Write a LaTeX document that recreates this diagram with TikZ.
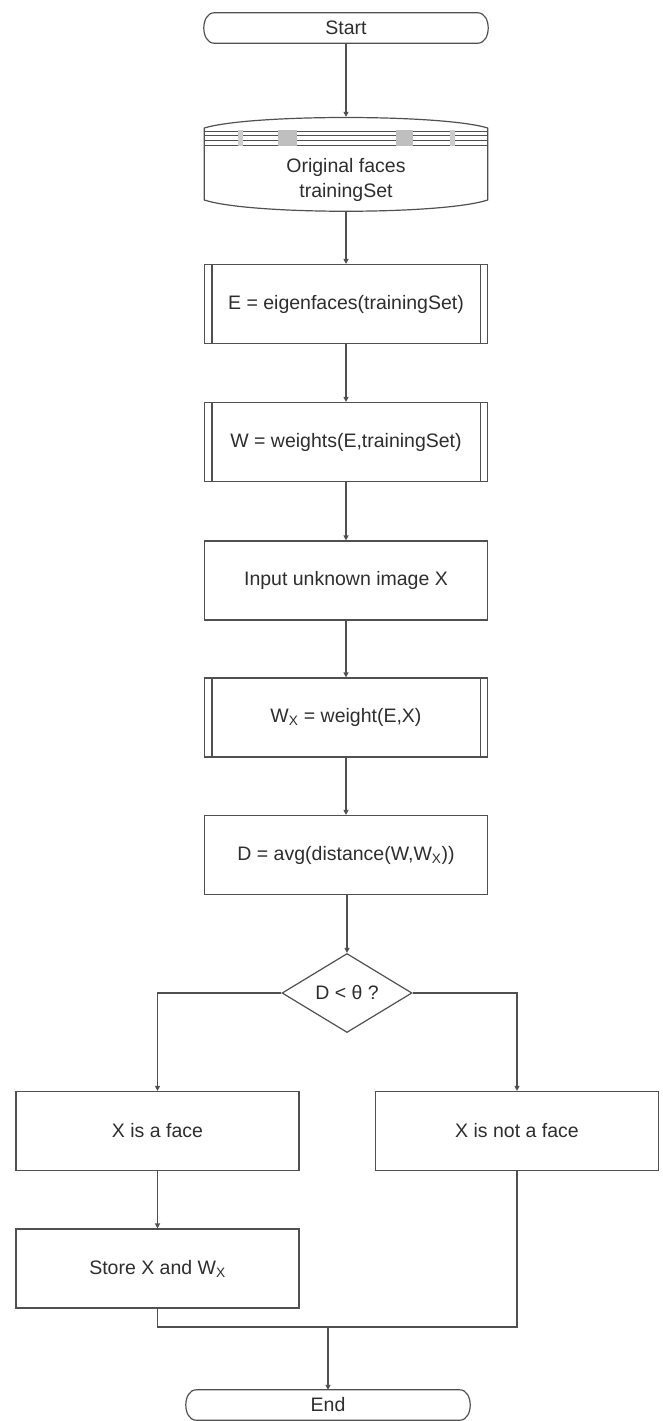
\documentclass[tikz,border=0pt]{standalone}
\usepackage{fontspec}
\setmainfont{Liberation Sans}
\usetikzlibrary{arrows.meta,shapes.geometric}
\definecolor{lncol}{HTML}{505050}
\definecolor{txcol}{HTML}{2E2E2E}
\newcommand\termoutline[1]{%
  \draw[edge, line join=round] ([xshift=10pt]#1.north west) -- ([xshift=-10pt]#1.north east)
    .. controls ([xshift=4pt]#1.north east) and ([xshift=4pt]#1.south east) .. ([xshift=-10pt]#1.south east)
    -- ([xshift=10pt]#1.south west)
    .. controls ([xshift=-4pt]#1.south west) and ([xshift=-4pt]#1.north west) .. ([xshift=10pt]#1.north west);}
\newcommand\sidebars[1]{%
  \draw[edge] ([xshift=8pt]#1.north west) -- ([xshift=8pt]#1.south west);
  \draw[edge] ([xshift=-8pt]#1.north east) -- ([xshift=-8pt]#1.south east);}
\begin{document}
\begin{tikzpicture}[x=1pt,y=-1pt,
  txt/.style={text=txcol, font=\fontsize{19.5}{25}\selectfont},
  box/.style={txt, draw=lncol, line width=1.2pt, minimum width=283pt, minimum height=79pt, inner sep=0pt},
  term/.style={txt, minimum width=283pt, minimum height=30pt, inner sep=0pt},
  edge/.style={draw=lncol, line width=1.2pt},
  arr/.style={edge, -{Triangle[length=5pt,width=5pt]}},
  band/.style={draw=lncol, line width=0.7pt},
  decision/.style={txt, diamond, draw=lncol, line width=1.2pt, minimum width=130pt, minimum height=79pt, inner sep=0pt}
]
\fill[white] (0,0) rectangle (662,1421);
\useasboundingbox (0,0) rectangle (662,1421);

% Start
\node[term] (start) at (346,28) {Start};
\termoutline{start}

% Database
\node[minimum width=283pt, minimum height=95pt, inner sep=0pt] (db) at (346,164.5) {};
\draw[edge, line join=round] (db.north west |- 0,128) .. controls (250,114) and (442,114) .. (db.north east |- 0,128)
  -- (db.south east |- 0,200) .. controls (442,215) and (250,215) .. (db.south west |- 0,200) -- cycle;
\foreach \yy in {131,135.5,140,145}{\draw[band] (205,\yy) -- (488,\yy);}
\fill[black!25] (278,130) rectangle (297,146);
\fill[black!25] (396,130) rectangle (413,146);
\fill[black!20] (238,130) rectangle (243,146);
\fill[black!20] (450,130) rectangle (455,146);
\node[txt, align=center, inner sep=0pt] (dbtext) at (346,180) {Original faces\\trainingSet};

% Process boxes
\node[box] (eig) at (346,304) {E = eigenfaces(trainingSet)};
\sidebars{eig}
\node[box] (wts) at (346,442) {W = weights(E,trainingSet)};
\sidebars{wts}
\node[box] (inp) at (346,580.5) {Input unknown image X};
\node[box] (wx) at (346,717.5) {W\textsubscript{X} = weight(E,X)};
\sidebars{wx}
\node[box] (dist) at (346,855) {D = avg(distance(W,W\textsubscript{X}))};

% Decision
\node[decision] (dec) at (347,993) {D < θ ?};

% Outcome boxes
\node[box] (face) at (157.5,1131) {X is a face};
\node[box] (notface) at (517,1131) {X is not a face};
\node[box] (store) at (157.5,1268.5) {Store X and W\textsubscript{X}};

% End
\node[term] (end) at (328,1405) {End};
\termoutline{end}

% Connectors
\draw[arr] (start.south) -- (db.north);
\draw[arr] (db.south) -- (eig.north);
\draw[arr] (eig.south) -- (wts.north);
\draw[arr] (wts.south) -- (inp.north);
\draw[arr] (inp.south) -- (wx.north);
\draw[arr] (wx.south) -- (dist.north);
\draw[arr] (dist.south -| dec.north) -- (dec.north);
\draw[arr] (dec.west) -| (face.north);
\draw[arr] (dec.east) -| (notface.north);
\draw[arr] (face.south) -- (store.north);
\coordinate (merge) at (328,1327);
\draw[edge] (store.south) |- (merge);
\draw[edge] (notface.south) |- (merge);
\draw[arr] (merge) -- (end.north);
\end{tikzpicture}
\end{document}
